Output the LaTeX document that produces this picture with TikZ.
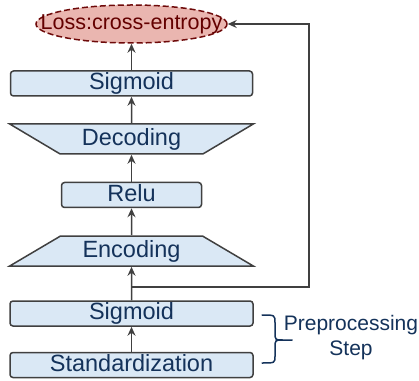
\documentclass[tikz,border=0pt]{standalone}
\usepackage{fontspec}
\setmainfont{Liberation Sans}
\usetikzlibrary{shapes.geometric,arrows.meta}
\definecolor{boxfill}{RGB}{218,232,245}
\definecolor{boxdraw}{RGB}{64,64,64}
\definecolor{txtblue}{RGB}{20,50,90}
\definecolor{lossfill}{RGB}{234,182,176}
\definecolor{lossdraw}{RGB}{110,10,10}
\definecolor{losstext}{RGB}{100,0,0}
\tikzset{
  layer/.style={draw=boxdraw,fill=boxfill,line width=1.5pt,rounded corners=3pt,
    text=txtblue,font=\fontsize{23.5}{27}\selectfont,inner sep=0pt,
    minimum height=25pt,text height=17pt,text depth=4.5pt},
  trap/.style={trapezium,trapezium stretches=true,trapezium angle=31.5,draw=boxdraw,
    fill=boxfill,line width=1.5pt,text=txtblue,font=\fontsize{23.5}{27}\selectfont,
    inner sep=0pt,minimum width=244pt,minimum height=30pt,text height=17pt,text depth=4.5pt},
  lossnode/.style={ellipse,draw=lossdraw,fill=lossfill,dashed,dash pattern=on 6pt off 3pt,
    line width=1.5pt,inner sep=0pt,minimum width=191pt,minimum height=38pt},
  losslabel/.style={text=losstext,font=\fontsize{21.5}{25}\selectfont,inner sep=0pt},
  arr/.style={draw=boxdraw,line width=1.5pt,-{Stealth[length=9pt,width=8pt,inset=3pt]}},
  bracetxt/.style={text=txtblue,font=\fontsize{21}{25}\selectfont,align=center}
}
\begin{document}
\begin{tikzpicture}[x=1pt,y=1pt]
\useasboundingbox (0,0) rectangle (419,380);
\node[lossnode,label={[losslabel]center:{Loss:cross-entropy}}] (loss) at (131.5,356) {};
\node[layer,minimum width=242pt] (sig2) at (131.5,296.5) {Sigmoid};
\node[trap,shape border rotate=180] (dec) at (131.5,241) {Decoding};
\node[layer,minimum width=140pt] (relu) at (131.5,185) {Relu};
\node[trap] (enc) at (131.5,129) {Encoding};
\node[layer,minimum width=243pt] (sig1) at (131.5,66.5) {Sigmoid};
\node[layer,minimum width=243pt] (std) at (131.5,15) {Standardization};
\draw[arr] (std) -- (sig1);
\draw[arr] (sig1) -- (enc);
\draw[arr] (enc) -- (relu);
\draw[arr] (relu) -- (dec);
\draw[arr] (dec) -- (sig2);
\draw[arr] (sig2) -- (loss);
\coordinate (br) at (131.5,93);
\coordinate (fb) at (309,93);
\draw[arr] (br) -- (fb) |- (loss.east);
\draw[draw=txtblue,line width=1.5pt,line cap=round]
  (262,65) .. controls (275,65) .. (275,57) -- (275,48) .. controls (275,40) .. (283,40) -- (292,40)
  (283,40) .. controls (275,40) .. (275,32) -- (275,24) .. controls (275,17) .. (262,17);
\node[bracetxt] (pre) at (351,42) {Preprocessing\\Step};
\end{tikzpicture}
\end{document}
